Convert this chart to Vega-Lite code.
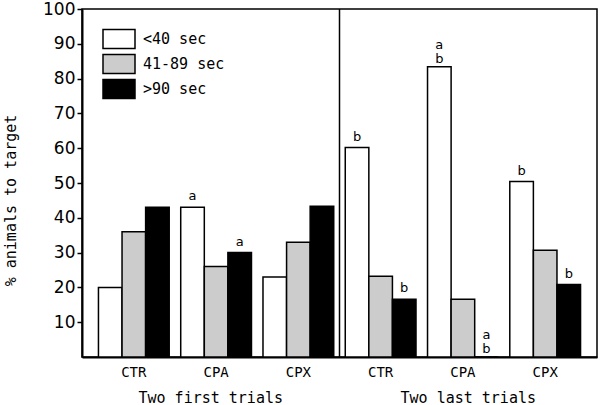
{
  "$schema": "https://vega.github.io/schema/vega-lite/v6.json",
  "width": 515,
  "height": 348,
  "autosize": {"type": "none"},
  "padding": {"left": 82, "top": 9, "right": 3, "bottom": 48},
  "background": "white",
  "config": {"view": {"stroke": "black", "strokeWidth": 1.5}, "font": "DejaVu Sans"},
  "datasets": {
    "bars": [
      {"group": "first CTR", "time": "<40 sec", "pct": 20},
      {"group": "first CTR", "time": "41-89 sec", "pct": 36},
      {"group": "first CTR", "time": ">90 sec", "pct": 43},
      {"group": "first CPA", "time": "<40 sec", "pct": 43},
      {"group": "first CPA", "time": "41-89 sec", "pct": 26},
      {"group": "first CPA", "time": ">90 sec", "pct": 30},
      {"group": "first CPX", "time": "<40 sec", "pct": 23},
      {"group": "first CPX", "time": "41-89 sec", "pct": 33},
      {"group": "first CPX", "time": ">90 sec", "pct": 43.3},
      {"group": "last CTR", "time": "<40 sec", "pct": 60.2},
      {"group": "last CTR", "time": "41-89 sec", "pct": 23.2},
      {"group": "last CTR", "time": ">90 sec", "pct": 16.6},
      {"group": "last CPA", "time": "<40 sec", "pct": 83.4},
      {"group": "last CPA", "time": "41-89 sec", "pct": 16.6},
      {"group": "last CPA", "time": ">90 sec", "pct": 0},
      {"group": "last CPX", "time": "<40 sec", "pct": 50.4},
      {"group": "last CPX", "time": "41-89 sec", "pct": 30.7},
      {"group": "last CPX", "time": ">90 sec", "pct": 20.8}
    ],
    "sig1": [
      {"group": "first CPA", "time": "<40 sec", "pct": 43, "sig": "a"},
      {"group": "first CPA", "time": ">90 sec", "pct": 30, "sig": "a"},
      {"group": "last CTR", "time": "<40 sec", "pct": 60.2, "sig": "b"},
      {"group": "last CTR", "time": ">90 sec", "pct": 16.6, "sig": "b"},
      {"group": "last CPX", "time": "<40 sec", "pct": 50.4, "sig": "b"},
      {"group": "last CPX", "time": ">90 sec", "pct": 20.8, "sig": "b"}
    ],
    "sig2": [
      {"group": "last CPA", "time": "<40 sec", "pct": 83.4, "sig": "a\nb"},
      {"group": "last CPA", "time": ">90 sec", "pct": 0, "sig": "a\nb"}
    ],
    "panels": [{"trial": "Two last trials"}]
  },
  "layer": [
    {
      "encoding": {
        "x": {
          "field": "group", "type": "nominal",
          "scale": {"domain": ["first CTR", "first CPA", "first CPX", "last CTR", "last CPA", "last CPX"], "paddingInner": 0.14, "paddingOuter": 0.2},
          "axis": {"labelExpr": "split(datum.value, ' ')[1]", "title": null, "ticks": false, "domainColor": "black", "domainWidth": 2, "labelFont": "DejaVu Sans Mono", "labelFontSize": 14, "labelColor": "black", "labelPadding": 8, "labelAngle": 0}
        },
        "xOffset": {"field": "time", "type": "nominal", "scale": {"domain": ["<40 sec", "41-89 sec", ">90 sec"], "paddingInner": 0, "paddingOuter": 0}},
        "y": {
          "field": "pct", "type": "quantitative",
          "scale": {"domain": [0, 100], "nice": false},
          "axis": {"values": [10, 20, 30, 40, 50, 60, 70, 80, 90, 100], "labelOverlap": false, "labelSeparation": 0, "labelBound": false, "labelFlush": false, "grid": false, "tickSize": 5, "tickWidth": 1.5, "tickColor": "black", "domainColor": "black", "domainWidth": 2, "labelFont": "DejaVu Sans", "labelFontSize": 17, "labelColor": "black", "labelPadding": 2, "title": "% animals to target", "titleFont": "DejaVu Sans Mono", "titleFontSize": 15, "titleFontWeight": "normal", "titleColor": "black", "titleX": -72, "titleY": 191, "titleBaseline": "middle"}
        }
      },
      "layer": [
        {
          "data": {"name": "bars"},
          "mark": {"type": "bar", "stroke": "black", "strokeWidth": 1.5},
          "encoding": {
            "fill": {
              "field": "time", "type": "nominal",
              "scale": {"domain": ["<40 sec", "41-89 sec", ">90 sec"], "range": ["white", "#cccccc", "black"]},
              "legend": {"orient": "none", "legendX": 28, "legendY": 21, "title": null, "padding": 0, "symbolType": "M-2,-1.19H2V1.19H-2Z", "symbolSize": 256, "symbolStrokeColor": "black", "symbolStrokeWidth": 1.5, "labelFont": "DejaVu Sans Mono", "labelFontSize": 15, "labelColor": "black", "labelOffset": 15, "rowPadding": -1}
            }
          }
        },
        {
          "data": {"name": "sig1"},
          "mark": {"type": "text", "baseline": "bottom", "dy": -4, "fontSize": 13, "color": "black"},
          "encoding": {"text": {"field": "sig"}}
        },
        {
          "data": {"name": "sig2"},
          "mark": {"type": "text", "baseline": "bottom", "dy": -15, "fontSize": 13, "lineBreak": "\n", "lineHeight": 14, "color": "black"},
          "encoding": {"text": {"field": "sig"}}
        }
      ]
    },
    {
      "data": {"name": "panels"},
      "mark": {"type": "rule", "color": "black", "strokeWidth": 1.5},
      "encoding": {
        "x": {
          "field": "trial", "type": "nominal", "bandPosition": 0,
          "scale": {"domain": ["Two first trials", "Two last trials"], "paddingInner": 0, "paddingOuter": 0},
          "axis": {"orient": "bottom", "title": null, "ticks": false, "domain": false, "labelAngle": 0, "labelFont": "DejaVu Sans Mono", "labelFontSize": 15, "labelColor": "black", "labelPadding": 33}
        }
      }
    }
  ],
  "resolve": {"scale": {"x": "independent"}, "axis": {"x": "independent"}}
}
